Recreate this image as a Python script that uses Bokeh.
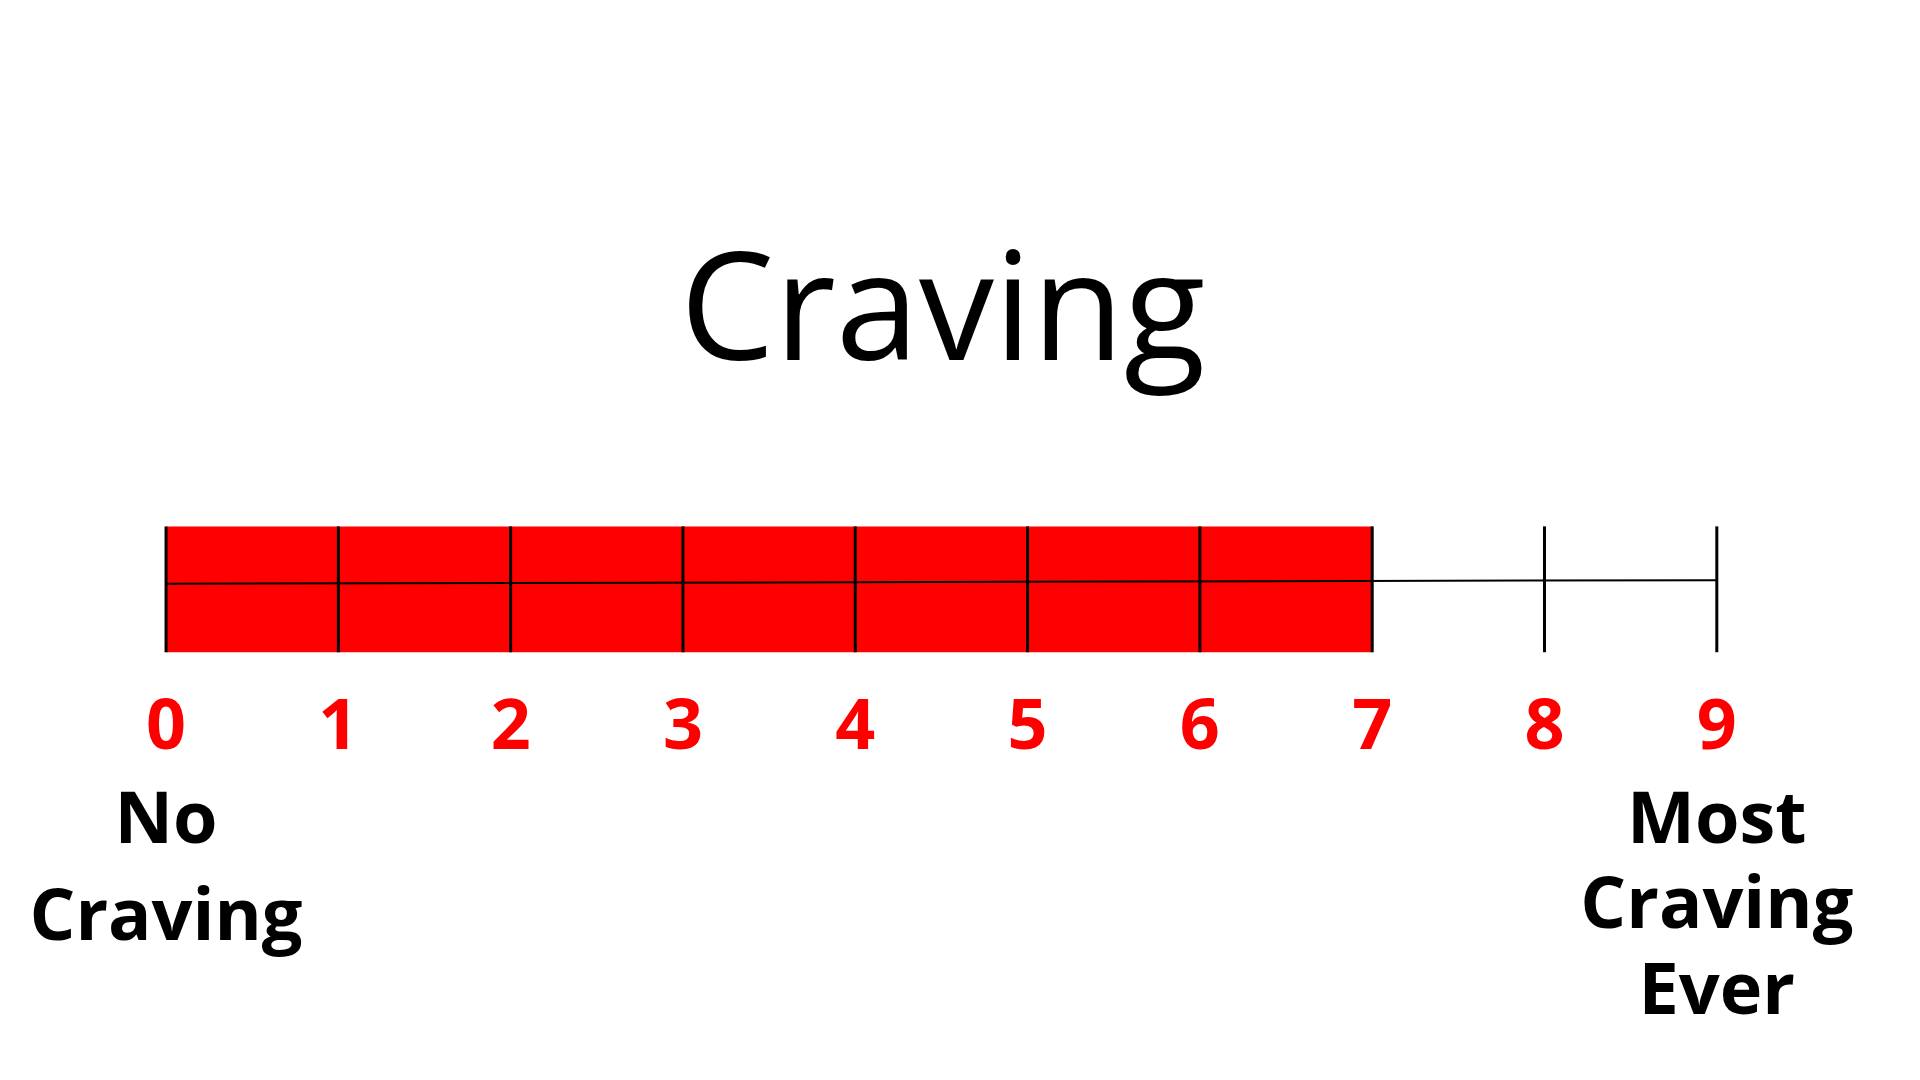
from bokeh.plotting import figure
from bokeh.models import Range1d
from bokeh.core.properties import value
from bokeh.embed import file_html
from bokeh.resources import INLINE

# datos de la escala
title = "Craving"
score = 7
ticks = list(range(10))
tick_labels = [str(t) for t in ticks]
low_label = ["No", "Craving"]
high_label = ["Most", "Craving", "Ever"]

W, H = 1904, 1064
s = 1920 / 1560  # escala de la imagen de referencia
unit = 140 * s
x0 = 141 * s - 8

p = figure(width=W, height=H, output_backend="svg", toolbar_location=None,
           x_range=Range1d(-x0 / unit, (W - x0) / unit),
           y_range=Range1d(H / s, -8 / s), min_border=0)
p.axis.visible = False
p.grid.visible = False
p.outline_line_color = None

font = value("Open Sans")

# barra roja hasta el valor
p.quad(left=[0], right=[score], top=[424], bottom=[527],
       fill_color="#ff0000", line_color=None)
# linea central y marcas
p.line([0, ticks[-1]], [471, 468], line_color="black", line_width=2)
p.segment(x0=ticks, x1=ticks, y0=[424] * len(ticks), y1=[527] * len(ticks),
          line_color="black", line_width=3)

p.text(x=ticks, y=[585] * len(ticks), text=tick_labels, text_color="#ff0000",
       text_font=font, text_font_style="bold", text_font_size="70px",
       text_align="center", text_baseline="middle")

p.text(x=[(772 - 141) / 140], y=[240], text=[title], text_color="black",
       text_font=font, text_font_size="150px",
       text_align="center", text_baseline="middle")

p.text(x=[0] * len(low_label), y=[660, 740], text=low_label, text_color="black",
       text_font=font, text_font_style="bold", text_font_size="72px",
       text_align="center", text_baseline="middle")
p.text(x=[ticks[-1]] * len(high_label), y=[660, 730, 800], text=high_label,
       text_color="black", text_font=font, text_font_style="bold",
       text_font_size="72px", text_align="center", text_baseline="middle")

open("out.html", "w").write(file_html(p, INLINE))
